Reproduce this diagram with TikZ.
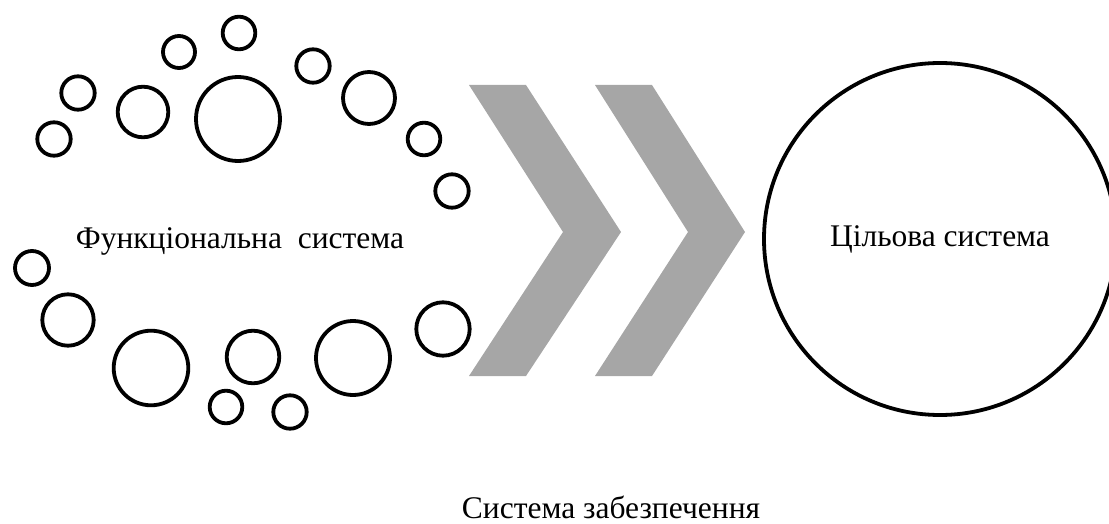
\documentclass[tikz,border=0pt]{standalone}
\usepackage{fontspec}
\setmainfont{Liberation Serif}
\definecolor{chev}{HTML}{A6A6A6}
\begin{document}
\begin{tikzpicture}[x=1pt,y=-1pt,
  ring/.style={draw=black,line width=3.8pt},
  label/.style={font=\fontsize{31.5}{36}\selectfont,anchor=base,inner sep=0pt},
  chevron/.style={fill=chev,draw=none}]
\useasboundingbox (0,0) rectangle (1109,524);
\clip (0,0) rectangle (1109,524);
% upper ring of circles
\draw[ring] (54,139) circle (16.7);
\draw[ring] (78,93) circle (16.7);
\draw[ring] (143,112) circle (25.3);
\draw[ring] (179,52) circle (16);
\draw[ring] (239,33) circle (16.3);
\draw[ring] (238,119) circle (42);
\draw[ring] (313,66) circle (16.7);
\draw[ring] (369,98) circle (26);
\draw[ring] (424,139) circle (16.3);
\draw[ring] (452,191) circle (16.7);
% lower ring of circles
\draw[ring] (32,268) circle (17);
\draw[ring] (68,320) circle (25.7);
\draw[ring] (151,368) circle (37.3);
\draw[ring] (253,357) circle (26.3);
\draw[ring] (226,407) circle (16.3);
\draw[ring] (290,412) circle (16.7);
\draw[ring] (353,358) circle (37);
\draw[ring] (443,329) circle (26.7);
% chevrons
\fill[chevron] (469,85) -- (526,85) -- (621,232) -- (526,376) -- (469,376) -- (563,232) -- cycle;
\fill[chevron] (595,85) -- (652,85) -- (745,232) -- (652,376) -- (595,376) -- (688,232) -- cycle;
% target circle
\draw[ring] (940,239) circle (176);
% texts
\node[label] (func) at (240,248) {Функціональна\ \ система};
\node[label] (target) at (940,246) {Цільова система};
\node[label] (support) at (611,518) {Система забезпечення};
\end{tikzpicture}
\end{document}
